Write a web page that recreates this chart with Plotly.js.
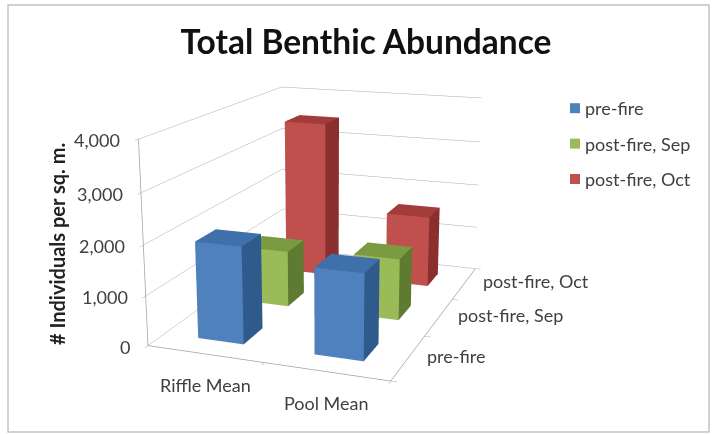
<!DOCTYPE html>
<html>
<head>
<meta charset="utf-8">
<script src="https://cdn.plot.ly/plotly-3.0.1.min.js"></script>
<style>
html,body{margin:0;padding:0;width:718px;height:434px;overflow:hidden;background:#fff}
#chart{position:absolute;left:-372px;top:-238px;width:1400px;height:900px}
</style>
</head>
<body>
<div id="chart"></div>
<script>
var categories = ['Riffle Mean', 'Pool Mean'];
var seriesNames = ['pre-fire', 'post-fire, Sep', 'post-fire, Oct'];
var preFire = [1950, 1700];
var postFireSep = [1190, 1290];
var postFireOct = [3480, 1570];
var zTicks = [0, 1000, 2000, 3000, 4000];
var zTickLabels = ['0', '1,000', '2,000', '3,000', '4,000'];
var seriesValues = [preFire, postFireSep, postFireOct];
var frontColors = ['#4F81BD', '#9BBB59', '#C0504D'];
var topColors = ['#3F70AA', '#7B9B42', '#A23B39'];
var sideColors = ['#2F5A8C', '#5F7B32', '#8A2F2D'];
var barFraction = 0.4;

// page-pixel helpers: the plot is larger than the window so the lens matches
var W = 1400, H = 900, L = 372, T = 238;
function px(x){return (x + L) / W;}
function py(y){return 1 - (y + T) / H;}

function box(cat, ser, val, s){
  var h = barFraction / 2;
  var x0 = cat + 0.5 - h, x1 = cat + 0.5 + h, y0 = ser + 0.5 - h, y1 = ser + 0.5 + h;
  var xs = [x0,x1,x1,x0,x0,x1,x1,x0], ys = [y0,y0,y1,y1,y0,y0,y1,y1], zs = [0,0,0,0,val,val,val,val];
  var faces = [
    [0,1,5,frontColors[s]],[0,5,4,frontColors[s]],
    [1,2,6,sideColors[s]],[1,6,5,sideColors[s]],
    [4,5,6,topColors[s]],[4,6,7,topColors[s]],
    [2,3,7,sideColors[s]],[2,7,6,sideColors[s]],
    [3,0,4,sideColors[s]],[3,4,7,sideColors[s]],
    [0,2,1,sideColors[s]],[0,3,2,sideColors[s]]
  ];
  return {xs:xs, ys:ys, zs:zs, faces:faces};
}

var traces = [];
seriesValues.forEach(function(vals, s){
  var x=[],y=[],z=[],i=[],j=[],k=[],fc=[];
  vals.forEach(function(v, c){
    var b = box(c, s, v, s), n = x.length;
    x = x.concat(b.xs); y = y.concat(b.ys); z = z.concat(b.zs);
    b.faces.forEach(function(f){ i.push(n+f[0]); j.push(n+f[1]); k.push(n+f[2]); fc.push(f[3]); });
  });
  traces.push({type:'mesh3d', x:x, y:y, z:z, i:i, j:j, k:k, facecolor:fc, flatshading:true,
    name:seriesNames[s], showlegend:false, hoverinfo:'skip',
    lighting:{ambient:1, diffuse:0, specular:0, roughness:1, fresnel:0}});
  traces.push({type:'scatter3d', mode:'markers', x:[null], y:[null], z:[null], name:seriesNames[s],
    legendgroup:seriesNames[s], showlegend:true, hoverinfo:'skip',
    marker:{symbol:'square', size:10, color:frontColors[s]}});
});

var textColor = '#404040';
var tickFont = {family:'Lato, sans-serif', size:18, color:textColor};
var ann3d = [];
categories.forEach(function(c, idx){
  ann3d.push({x:idx+0.5, y:0, z:0, text:c, showarrow:false, yshift:-31, font:tickFont, xanchor:'center', yanchor:'middle'});
});
seriesNames.forEach(function(n, idx){
  ann3d.push({x:2, y:idx+0.5, z:0, text:n, showarrow:false, xshift:17, yshift:2, font:tickFont, xanchor:'left', yanchor:'middle'});
});
zTicks.forEach(function(t, idx){
  ann3d.push({x:0, y:0, z:t, text:zTickLabels[idx], showarrow:false, xshift:-16, yshift:-1, font:tickFont, xanchor:'right', yanchor:'middle'});
});

function axis(range, dtick, extra){
  return Object.assign({range:range, dtick:dtick, tickmode:'linear', tick0:0, autorange:false, title:{text:''},
    showticklabels:false, showbackground:false, showspikes:false, zeroline:false,
    showline:true, linecolor:'#a0a0a0', linewidth:1.5, ticks:'outside', ticklen:5, tickcolor:'#a0a0a0',
    showgrid:false}, extra||{});
}

var el = 15*Math.PI/180, th = 20*Math.PI/180, d = 5.45;
var layout = {
  width:W, height:H, margin:{l:0,r:0,t:0,b:0,pad:0},
  paper_bgcolor:'#ffffff',
  showlegend:true,
  title:{text:'<b>Total Benthic Abundance</b>', x:px(366), xref:'paper', xanchor:'center', y:py(42), yref:'paper', yanchor:'middle',
         font:{family:'Lato, sans-serif', size:33.5, color:'#111111'}},
  legend:{x:px(555), y:py(90), xanchor:'left', yanchor:'top', bgcolor:'rgba(0,0,0,0)', tracegroupgap:9,
          font:{family:'Lato, sans-serif', size:18, color:textColor}},
  annotations:[{text:'<b># Individuals per sq. m.</b>', xref:'paper', yref:'paper', x:px(57), y:py(244), showarrow:false, textangle:-90,
                xanchor:'center', yanchor:'middle', font:{family:'Lato, sans-serif', size:20, color:'#222222'}}],
  shapes:[{type:'rect', xref:'paper', yref:'paper', x0:px(8), x1:px(709), y0:py(432), y1:py(5), line:{color:'#c4c4c4', width:1.5}, fillcolor:'rgba(0,0,0,0)', layer:'below'}],
  scene:{
    domain:{x:[0,1], y:[0,1]},
    aspectmode:'manual', aspectratio:{x:1.17, y:1.65, z:0.97},
    bgcolor:'rgba(0,0,0,0)',
    camera:{projection:{type:'perspective'}, up:{x:0,y:0,z:1}, center:{x:0,y:0,z:0},
      eye:{x:d*Math.sin(th)*Math.cos(el), y:-d*Math.cos(th)*Math.cos(el), z:d*Math.sin(el)}},
    xaxis:axis([0,2],1),
    yaxis:axis([0,3],1),
    zaxis:axis([0,4000],1000,{showgrid:true, gridcolor:'#ababab', gridwidth:1}),
    annotations:ann3d
  }
};
Plotly.newPlot('chart', traces, layout, {displayModeBar:false, responsive:false}).then(function(gd){
  // bring the legend labels closer to their swatches, as in the reference
  gd.querySelectorAll('.legendtext').forEach(function(t){ t.setAttribute('x', 30); });
});
</script>
</body>
</html>
